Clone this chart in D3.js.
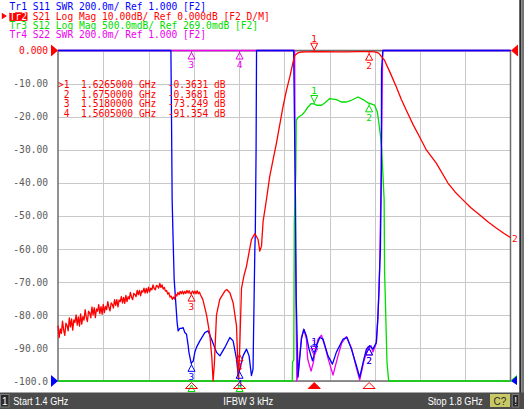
<!DOCTYPE html>
<html><head><meta charset="utf-8">
<script src="https://cdn.jsdelivr.net/npm/d3@7"></script>
<style>
html,body{margin:0;padding:0;background:#fff;}
svg{display:block;}
text{white-space:pre;}
</style></head><body>
<svg id="c" width="524" height="409"></svg>
<script>
// ---------------- DATA ----------------
const freqDomain = [1.4, 1.8];
const gridFreqs = [1.44, 1.48, 1.52, 1.56, 1.60, 1.64, 1.68, 1.72, 1.76];
const dbTicks = [0, -10, -20, -30, -40, -50, -60, -70, -80, -90, -100];
const dbTickLabels = ["0.000", "-10.00", "-20.00", "-30.00", "-40.00", "-50.00", "-60.00", "-70.00", "-80.00", "-90.00", "-100.0"];

const headerLines = [
  "Tr1 S11 SWR 200.0m/ Ref 1.000 [F2]",
  "Tr2 S21 Log Mag 10.00dB/ Ref 0.000dB [F2 D/M]",
  "Tr3 S12 Log Mag 500.0mdB/ Ref 269.0mdB [F2]",
  "Tr4 S22 SWR 200.0m/ Ref 1.000 [F2]"
];
const markerRows = [
  ">1  1.6265000 GHz  -0.3631 dB",
  " 2  1.6750000 GHz  -0.3681 dB",
  " 3  1.5180000 GHz  -73.249 dB",
  " 4  1.5605000 GHz  -91.354 dB"
];
const markerFreqs = [1.6265, 1.675, 1.518, 1.5605];
const s21MarkerValues = [-0.3631, -0.3681, -73.249, -91.354];
const statusTexts = ["Start 1.4 GHz", "IFBW 3 kHz", "Stop 1.8 GHz"];

// Tr2  S21 (dB)
const s21 = [
[1.400,-83.2],[1.401,-86.9],[1.402,-84.2],[1.403,-85.6],[1.404,-81.9],[1.405,-84.6],[1.406,-86.2],[1.407,-82.5],
[1.408,-83.2],[1.409,-84.8],[1.410,-80.9],[1.411,-83.6],[1.412,-81.2],[1.413,-84.6],[1.414,-81.5],[1.415,-82.3],
[1.416,-80.0],[1.417,-83.1],[1.418,-80.6],[1.419,-83.4],[1.420,-79.7],[1.421,-82.8],[1.422,-80.5],[1.423,-81.6],
[1.424,-78.4],[1.425,-80.7],[1.426,-82.0],[1.427,-78.9],[1.428,-79.4],[1.429,-80.9],[1.430,-77.6],[1.431,-80.0],
[1.432,-77.8],[1.433,-80.8],[1.434,-78.2],[1.435,-78.9],[1.436,-76.9],[1.437,-79.6],[1.438,-77.5],[1.439,-79.8],
[1.440,-76.8],[1.441,-79.3],[1.442,-77.4],[1.443,-78.4],[1.444,-76.0],[1.445,-77.7],[1.446,-78.8],[1.447,-76.4],
[1.448,-76.8],[1.449,-77.9],[1.450,-75.4],[1.451,-77.1],[1.452,-75.4],[1.453,-77.6],[1.454,-75.5],[1.455,-76.0],
[1.456,-74.5],[1.457,-76.4],[1.458,-74.7],[1.459,-76.5],[1.460,-74.1],[1.461,-76.0],[1.462,-74.5],[1.463,-75.2],
[1.464,-73.2],[1.465,-74.6],[1.466,-75.4],[1.467,-73.5],[1.468,-73.8],[1.469,-74.5],[1.470,-72.6],[1.471,-73.9],
[1.472,-72.6],[1.473,-74.2],[1.474,-72.7],[1.475,-73.1],[1.476,-71.9],[1.477,-73.4],[1.478,-72.0],[1.479,-73.3],
[1.480,-71.6],[1.481,-73.0],[1.482,-71.9],[1.483,-72.4],[1.484,-70.9],[1.485,-72.0],[1.486,-72.4],[1.487,-71.1],
[1.488,-71.3],[1.489,-71.9],[1.490,-70.5],[1.491,-71.7],[1.492,-70.9],[1.493,-72.2],[1.494,-71.7],[1.495,-72.8],
[1.496,-72.6],[1.497,-73.7],[1.498,-73.3],[1.499,-74.6],[1.500,-74.3],[1.501,-75.3],[1.502,-74.6],[1.503,-75.2],
[1.504,-73.8],[1.505,-74.3],[1.506,-73.2],[1.507,-73.9],[1.508,-72.9],[1.509,-73.6],[1.510,-72.8],[1.511,-73.7],
[1.512,-72.9],[1.513,-73.5],[1.514,-72.6],[1.515,-73.4],[1.516,-72.7],[1.517,-73.6],[1.518,-73.25],[1.519,-72.8],
[1.520,-73.6],[1.521,-72.8],[1.522,-73.6],[1.523,-72.7],[1.524,-73.6],[1.525,-73.1],[1.526,-74.0],
[1.528,-75.3],[1.5313,-80.0],[1.5342,-86.0],[1.5360,-93.0],[1.5371,-104.0],[1.5382,-95.0],[1.5401,-80.0],
[1.5430,-75.3],[1.5475,-72.8],[1.5492,-72.3],[1.5519,-73.3],[1.5548,-76.3],[1.5578,-83.3],[1.5594,-99.5],
[1.5605,-91.354],[1.5622,-72.0],[1.5645,-68.0],[1.5666,-65.3],[1.5710,-57.2],[1.5740,-55.4],[1.5769,-57.2],
[1.5784,-60.7],[1.5799,-59.2],[1.5813,-51.7],[1.5843,-45.0],[1.5872,-38.0],[1.5901,-33.1],[1.5931,-28.0],
[1.5960,-22.5],[1.5989,-17.0],[1.6020,-12.0],[1.6049,-8.0],[1.6078,-3.5],[1.6093,-1.5],[1.6122,-0.7],
[1.6155,-0.45],[1.620,-0.40],[1.6265,-0.3631],[1.635,-0.38],[1.645,-0.43],[1.655,-0.40],[1.665,-0.37],
[1.675,-0.3681],[1.680,-0.42],[1.6835,-0.8],[1.6858,-1.8],[1.6887,-3.0],[1.6940,-7.0],[1.6990,-11.0],
[1.7035,-14.8],[1.7079,-18.1],[1.7140,-22.5],[1.7196,-26.1],[1.7256,-30.1],[1.7344,-34.1],[1.7447,-40.1],
[1.7510,-42.8],[1.7579,-45.2],[1.7650,-47.6],[1.7726,-49.7],[1.7800,-51.8],[1.7874,-53.7],[1.7940,-55.3],
[1.8000,-56.6]
];

// Tr1  S11 (SWR)
const s11 = [
[1.400,6],[1.4998,6],[1.5004,2.548],[1.5009,2.096],[1.5018,1.845],[1.5027,1.614],[1.5039,1.494],[1.5053,1.355],
[1.5062,1.303],[1.5077,1.319],[1.5092,1.319],[1.5106,1.323],[1.5121,1.293],[1.5136,1.283],[1.5151,1.213],
[1.5157,1.175],[1.5177,1.108],[1.5195,1.120],[1.5210,1.175],[1.5225,1.205],[1.5254,1.243],[1.5298,1.293],
[1.5327,1.303],[1.5357,1.253],[1.5402,1.173],[1.5431,1.152],[1.5475,1.203],[1.5519,1.263],[1.5548,1.243],
[1.5578,1.133],[1.5592,1.042],[1.5613,1.084],[1.5636,1.152],[1.5666,1.193],[1.5689,1.152],[1.5710,1.032],
[1.5724,1.072],[1.5740,1.795],[1.5744,1.886],[1.5751,2.398],[1.5755,3.2],[1.5757,6],[1.6083,6],[1.6087,2.771],
[1.6099,2.096],[1.6106,1.494],[1.6122,1.024],[1.6152,1.253],[1.6173,1.313],[1.6196,1.273],[1.6219,1.193],
[1.6250,1.122],[1.6265,1.160],[1.6285,1.213],[1.6314,1.263],[1.6343,1.253],[1.6387,1.152],[1.6426,1.102],
[1.6461,1.175],[1.6519,1.253],[1.6555,1.263],[1.6594,1.193],[1.6638,1.092],[1.6667,1.022],[1.6697,1.113],
[1.6726,1.193],[1.6755,1.213],[1.6784,1.193],[1.6814,1.233],[1.6828,1.393],[1.6837,1.536],[1.6843,1.675],
[1.6850,1.795],[1.6858,2.277],[1.6860,2.88],[1.6872,3.2],[1.6875,6],[1.800,6]
];

// Tr4  S22 (SWR)
const s22 = [
[1.400,6],[1.6085,6],[1.6092,3.2],[1.6099,1.795],[1.6111,1.0],[1.6122,1.042],[1.6152,1.265],[1.6173,1.313],
[1.6196,1.253],[1.6207,1.133],[1.6237,1.060],[1.6258,1.114],[1.6276,1.193],[1.6299,1.253],[1.6329,1.277],
[1.6358,1.213],[1.6394,1.120],[1.6431,1.036],[1.6475,1.152],[1.6508,1.230],[1.6549,1.269],[1.6594,1.200],
[1.6638,1.080],[1.6667,1.006],[1.6702,1.115],[1.6740,1.205],[1.6768,1.213],[1.6784,1.175],[1.6814,1.230],
[1.6828,1.380],[1.6843,1.675],[1.6858,2.277],[1.6870,3.2],[1.6875,6],[1.800,6]
];

// Tr3  S12 (dB)
const s12 = [
[1.400,-10],[1.6071,-10],[1.6073,-4.445],[1.6084,-4.415],[1.6089,-2.336],[1.6102,-1.568],[1.6106,-0.785],
[1.6122,-0.745],[1.6137,-0.725],[1.6160,-0.700],[1.6181,-0.660],[1.6210,-0.585],[1.6240,-0.534],[1.6265,-0.540],
[1.6285,-0.559],[1.6329,-0.559],[1.6358,-0.525],[1.6402,-0.458],[1.6461,-0.473],[1.6505,-0.510],[1.6549,-0.510],
[1.6594,-0.484],[1.6652,-0.434],[1.6697,-0.473],[1.6741,-0.525],[1.6799,-0.559],[1.6823,-0.660],[1.6837,-0.835],
[1.6852,-1.037],[1.6861,-1.207],[1.6883,-1.99],[1.6887,-3.089],[1.6896,-3.647],[1.6908,-4.445],[1.6923,-4.73],
[1.6925,-10],[1.800,-10]
];

// ---------------- DRAW ----------------
const mono = "'DejaVu Sans Mono', 'Liberation Mono', monospace";
const sans = "'Liberation Sans', Arial, sans-serif";
const CW = 5.78;
const col = {tr1:"#0000ff", tr2:"#ff0000", tr3:"#00dd00", tr4:"#ee00ee", grid:"#c8c8c8", frame:"#6e6e6e", lab:"#5a5a5a"};
const PL = 58, PR = 510.5, PT = 50.5, PB = 381;

const svg = d3.select("#c");
svg.append("rect").attr("width",524).attr("height",409).attr("fill","#fff");

const x = d3.scaleLinear().domain(freqDomain).range([PL, PR]);
const yDb = d3.scaleLinear().domain([-100, 0]).range([PB, PT]).clamp(true);
const ySwr = d3.scaleLinear().domain([1.0, 1.0 + 10*0.2]).range([PB, PT]).clamp(true);
const yS12 = d3.scaleLinear().domain([0.269 - 10*0.5, 0.269]).range([PB, PT]).clamp(true);

// grid
const gx = svg.append("g").attr("transform", `translate(0,${PB})`)
  .call(d3.axisBottom(x).tickValues(gridFreqs).tickSize(-(PB-PT)).tickFormat(""));
gx.select(".domain").remove();
gx.selectAll("line").attr("stroke", col.grid).attr("shape-rendering","crispEdges");

const gy = svg.append("g").attr("transform", `translate(${PL},0)`)
  .call(d3.axisLeft(yDb).tickValues(dbTicks).tickSize(-(PR-PL)).tickPadding(10)
        .tickFormat((d,i) => dbTickLabels[i]));
gy.select(".domain").remove();
gy.selectAll("line").attr("stroke", col.grid).attr("shape-rendering","crispEdges");
gy.selectAll("text").attr("font-family", mono).attr("font-size", 10)
  .attr("fill", (d,i) => i === 0 ? col.tr2 : col.lab)
  .attr("textLength", (d,i) => dbTickLabels[i].length*CW).attr("lengthAdjust","spacingAndGlyphs");

// frame
svg.append("rect").attr("x",PL).attr("y",PT).attr("width",PR-PL).attr("height",PB-PT)
  .attr("fill","none").attr("stroke",col.frame).attr("stroke-width",1.5);

// traces
function drawTrace(data, yScale, color, w) {
  const line = d3.line().x(d => x(d[0])).y(d => yScale(d[1]));
  svg.append("path").datum(data).attr("d", line).attr("fill","none")
    .attr("stroke", color).attr("stroke-width", w).attr("stroke-linejoin","round");
}
drawTrace(s22, ySwr, col.tr4, 1.3);
drawTrace(s12, yS12, col.tr3, 1.3);
drawTrace(s11, ySwr, col.tr1, 1.3);
drawTrace(s21, yDb, col.tr2, 1.3);

function valueAt(data, f) {
  const i = d3.bisector(d => d[0]).left(data, f);
  if (i <= 0) return data[0][1];
  if (i >= data.length) return data[data.length-1][1];
  const a = data[i-1], b = data[i];
  return a[1] + (b[1]-a[1]) * (f - a[0]) / (b[0] - a[0]);
}

const mg = svg.append("g");
function markerUp(cx, ty, label, color) {
  mg.append("path").attr("d", `M${cx},${ty}V${ty+2}M${cx},${ty+2}L${cx+3.5},${ty+8.5}H${cx-3.5}Z`)
    .attr("fill","none").attr("stroke",color).attr("stroke-width",1);
  mg.append("text").attr("x",cx).attr("y",ty+17.5).attr("text-anchor","middle")
    .attr("font-family",mono).attr("font-size",9.5).attr("fill",color).text(label);
}
function markerDown(cx, ty, label, color) {
  mg.append("path").attr("d", `M${cx-3.5},${ty-8.5}H${cx+3.5}L${cx},${ty-1.5}ZM${cx},${ty-1.5}V${ty}`)
    .attr("fill","none").attr("stroke",color).attr("stroke-width",1);
  mg.append("text").attr("x",cx).attr("y",ty-10).attr("text-anchor","middle")
    .attr("font-family",mono).attr("font-size",9.5).attr("fill",color).text(label);
}
function drawMarkers(vals, yScale, color, which) {
  markerFreqs.forEach((f,i) => {
    if (!which.includes(i)) return;
    const cx = x(f), ty = yScale(vals[i]);
    if (i === 0) markerDown(cx, ty, String(i+1), color);
    else markerUp(cx, ty, String(i+1), color);
  });
}
drawMarkers(markerFreqs.map(f => valueAt(s22, f)), ySwr, col.tr4, [0,1,2,3]);
drawMarkers(markerFreqs.map(f => valueAt(s12, f)), yS12, col.tr3, [0,1]);
drawMarkers(markerFreqs.map(f => valueAt(s11, f)), ySwr, col.tr1, [0,1,2,3]);
drawMarkers(s21MarkerValues, yDb, col.tr2, [0,1,2,3]);

// stimulus indicators below grid
[2,3].forEach(i => {
  const cx = x(markerFreqs[i]);
  svg.append("path").attr("d", `M${cx},${385}L${cx+3.5},${391.5}H${cx-3.5}Z`)
    .attr("fill","#fff").attr("stroke",col.tr3).attr("stroke-width",1);
});
markerFreqs.forEach((f,i) => {
  const cx = x(f);
  svg.append("path").attr("d", `M${cx},${382.5}L${cx+6},${388.5}H${cx-6}Z`)
    .attr("fill", i === 0 ? col.tr2 : "none").attr("stroke",col.tr2).attr("stroke-width",1);
});

// reference position triangles
function tri(d, color) { svg.append("path").attr("d", d).attr("fill", color); }
tri(`M${PL},${PT}L${PL-7},${PT-6}V${PT+6}Z`, col.tr2);
tri(`M${PL},${PB}L${PL-7},${PB-6}V${PB+6}Z`, col.tr1);
tri(`M${PR+0.5},${PT}L${PR+7.5},${PT-6}V${PT+6}Z`, col.tr2);
tri(`M${PR+0.5},${PB-1}L${PR+6.5},${PB-6}V${PB+4}Z`, col.tr3);
tri(`M${PR+0.5},${PB}L${PR+6.5},${PB-5}V${PB+4}Z`, col.tr1);
svg.append("text").attr("x",PR+1.5).attr("y",yDb(s21[s21.length-1][1])+4).attr("font-family",mono)
  .attr("font-size",9.5).attr("fill",col.tr2).text("2");

// marker table
markerRows.forEach((r,i) => {
  svg.append("text").attr("x",58).attr("y",[87.7,97.5,107.4,117.3][i])
    .attr("xml:space","preserve").attr("font-family",mono).attr("font-size",10)
    .attr("fill",col.tr2).attr("textLength", r.length*CW).attr("lengthAdjust","spacingAndGlyphs").text(r);
});

// header
const hBase = [10.2, 19.8, 29.2, 38.4];
const hCol = [col.tr1, col.tr2, col.tr3, col.tr4];
const hFs = 9.6;
headerLines.forEach((t,i) => {
  if (i === 1) {
    svg.append("rect").attr("x",9.3).attr("y",12.3).attr("width",3*CW+0.8).attr("height",8.6).attr("fill",col.tr2);
    svg.append("text").attr("x",9.6).attr("y",hBase[i]).attr("font-family",mono).attr("font-size",hFs)
      .attr("fill","#fff").attr("textLength",3*CW).attr("lengthAdjust","spacingAndGlyphs").text(t.slice(0,3));
    const rest = t.slice(3);
    svg.append("text").attr("x",9.6+3*CW).attr("y",hBase[i]).attr("xml:space","preserve")
      .attr("font-family",mono).attr("font-size",hFs).attr("fill",col.tr2)
      .attr("textLength",rest.length*CW).attr("lengthAdjust","spacingAndGlyphs").text(rest);
    tri("M7,16L1.8,12.7V19.3Z", col.tr2);
  } else {
    svg.append("text").attr("x",9.6).attr("y",hBase[i]).attr("xml:space","preserve")
      .attr("font-family",mono).attr("font-size",hFs).attr("fill",hCol[i])
      .attr("textLength",t.length*CW).attr("lengthAdjust","spacingAndGlyphs").text(t);
  }
});

// right window border
svg.append("rect").attr("x",519.3).attr("y",0).attr("width",2).attr("height",409).attr("fill","#2c2c2c");
svg.append("rect").attr("x",521.3).attr("y",0).attr("width",2.7).attr("height",409).attr("fill","#767676");

// status bar
const sb = svg.append("g");
sb.append("rect").attr("x",0).attr("y",392.5).attr("width",524).attr("height",16.5).attr("fill","#4b4b4b");
sb.append("rect").attr("x",0.5).attr("y",394.5).attr("width",8.5).attr("height",12.5).attr("fill","#2a2a2a").attr("stroke","#7a7a7a");
sb.append("text").attr("x",4.8).attr("y",405).attr("text-anchor","middle").attr("font-family",sans).attr("font-size",10).attr("fill","#fff").text("1");
const sx = [13.3, 223.3, 427.7], sw = [55, 50, 55];
statusTexts.forEach((t,i) => {
  sb.append("text").attr("x",sx[i]).attr("y",405).attr("font-family",sans).attr("font-size",10)
    .attr("fill","#fff").attr("textLength",sw[i]).attr("lengthAdjust","spacingAndGlyphs").text(t);
});
sb.append("rect").attr("x",490).attr("y",394).attr("width",20).attr("height",13).attr("fill","#c8c864");
sb.append("text").attr("x",500).attr("y",405).attr("text-anchor","middle").attr("font-family",sans).attr("font-size",10).attr("fill","#2a2a2a").text("C?");
sb.append("rect").attr("x",512.3).attr("y",394.5).attr("width",6.5).attr("height",12.5).attr("fill","#2a2a2a").attr("stroke","#7a7a7a");
sb.append("text").attr("x",515.6).attr("y",405).attr("text-anchor","middle").attr("font-family",sans).attr("font-size",10).attr("fill","#fff").text("!");
</script></body></html>
